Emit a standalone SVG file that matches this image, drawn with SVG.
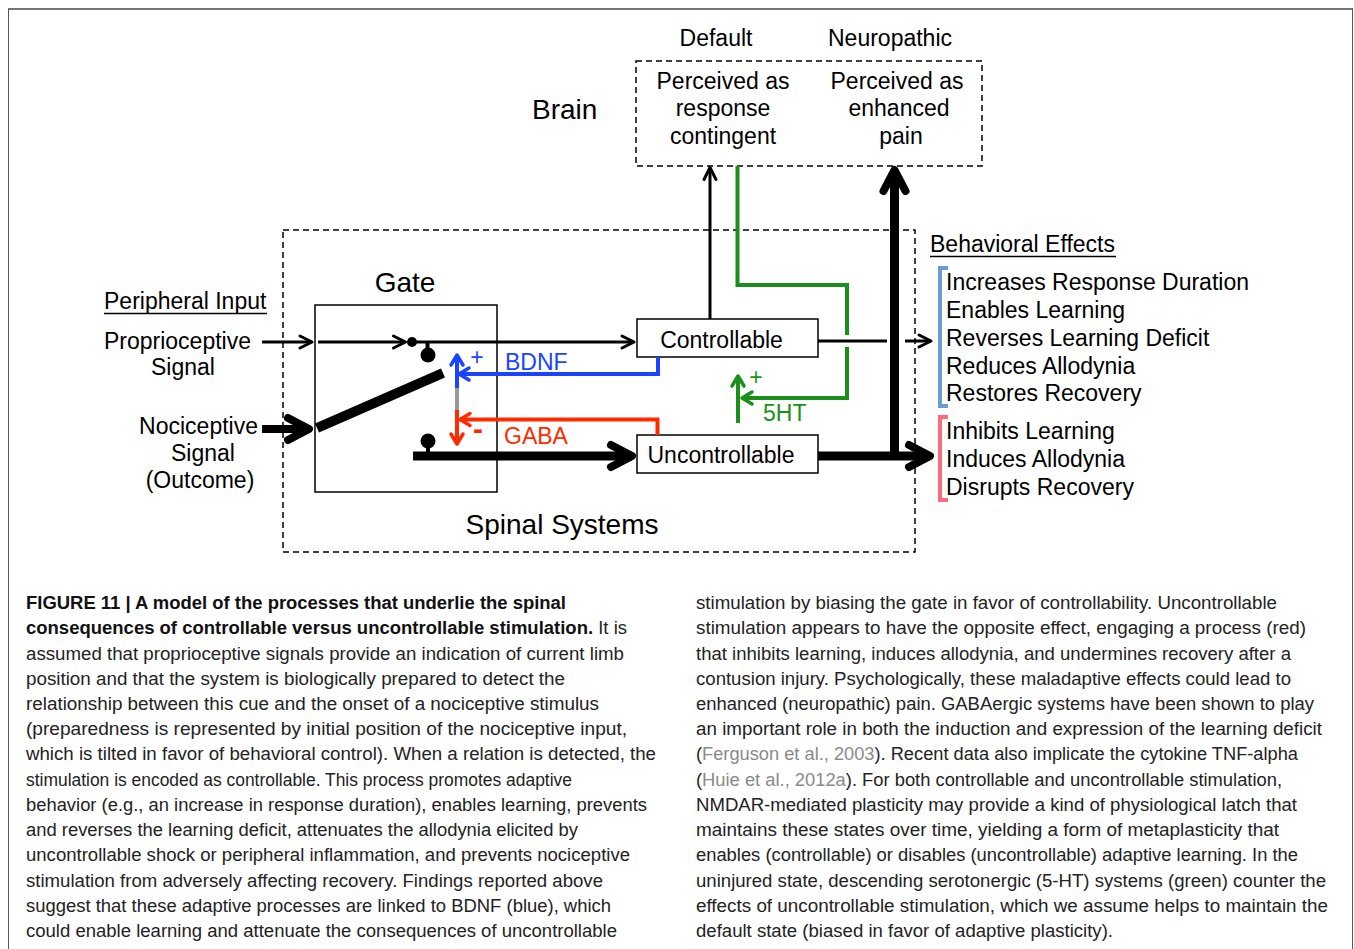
<svg xmlns="http://www.w3.org/2000/svg" width="1354" height="949" viewBox="0 0 1354 949">
<style>
.t{font-family:"Liberation Sans",Arial,Helvetica,sans-serif;fill:#000}
.d{font-size:23px}
.big{font-size:28px}
.m{text-anchor:middle}
.dash{fill:none;stroke:#000;stroke-width:1.5;stroke-dasharray:6 4}
.box{fill:#fff;stroke:#000;stroke-width:1.5}
.ln{fill:none;stroke:#000;stroke-width:3}
.thk{fill:none;stroke:#000;stroke-width:9}
.bl{fill:none;stroke:#1a44ff;stroke-width:4}
.rd{fill:none;stroke:#ff2a00;stroke-width:4}
.gr{fill:none;stroke:#1b8e1b;stroke-width:4}
.cap{font-family:"Liberation Sans",Arial,Helvetica,sans-serif;font-size:17.5px;fill:#222}
.bo{font-weight:bold;fill:#111}
.lk{fill:#8a8a8a}
</style>
<defs>
<marker id="aT" viewBox="-16 -10 20 20" refX="0" refY="0" markerWidth="20" markerHeight="20" markerUnits="userSpaceOnUse" orient="auto" overflow="visible"><path d="M-12,-6 L0,0 L-12,6" fill="none" stroke="#000" stroke-width="3" stroke-linecap="round" stroke-linejoin="round"/></marker>
<marker id="aB" viewBox="-30 -18 36 36" refX="0" refY="0" markerWidth="36" markerHeight="36" markerUnits="userSpaceOnUse" orient="auto" overflow="visible"><path d="M-21,-11 L0,0 L-21,11" fill="none" stroke="#000" stroke-width="8" stroke-linecap="round" stroke-linejoin="round"/></marker>
<marker id="aBl" viewBox="-16 -10 20 20" refX="0" refY="0" markerWidth="20" markerHeight="20" markerUnits="userSpaceOnUse" orient="auto" overflow="visible"><path d="M-10,-6 L0,0 L-10,6" fill="none" stroke="#1a44ff" stroke-width="3.5" stroke-linecap="round" stroke-linejoin="round"/></marker>
<marker id="aRd" viewBox="-16 -10 20 20" refX="0" refY="0" markerWidth="20" markerHeight="20" markerUnits="userSpaceOnUse" orient="auto" overflow="visible"><path d="M-10,-6 L0,0 L-10,6" fill="none" stroke="#ff2a00" stroke-width="3.5" stroke-linecap="round" stroke-linejoin="round"/></marker>
<marker id="aGr" viewBox="-16 -10 20 20" refX="0" refY="0" markerWidth="20" markerHeight="20" markerUnits="userSpaceOnUse" orient="auto" overflow="visible"><path d="M-10,-6 L0,0 L-10,6" fill="none" stroke="#1b8e1b" stroke-width="3.5" stroke-linecap="round" stroke-linejoin="round"/></marker>
</defs>
<rect width="1354" height="949" fill="#fff"/>
<g id="frame">
<path d="M8,9 H1353" stroke="#777" stroke-width="2" fill="none"/>
<path d="M8.5,9 V949 M1352.5,9 V949" stroke="#555" stroke-width="1" fill="none"/>
</g>

<g id="brain">
<text class="t d m" x="716" y="46">Default</text>
<text class="t d m" x="890" y="46">Neuropathic</text>
<text class="t big" x="532" y="119">Brain</text>
<rect class="dash" x="636" y="61" width="346" height="105"/>
<text class="t d m" x="723" y="89">Perceived as</text>
<text class="t d m" x="723" y="116">response</text>
<text class="t d m" x="723" y="144">contingent</text>
<text class="t d m" x="897" y="89">Perceived as</text>
<text class="t d m" x="899" y="116">enhanced</text>
<text class="t d m" x="901" y="144">pain</text>
</g>

<g id="spinal">
<rect class="dash" x="283" y="230" width="632" height="322"/>
<text class="t big m" x="562" y="534">Spinal Systems</text>
</g>

<g id="peripheral">
<text class="t d" x="104" y="309">Peripheral Input</text>
<path d="M104,313.5 H267" stroke="#000" stroke-width="1.5"/>
<text class="t d" x="251" y="349" text-anchor="end">Proprioceptive</text>
<text class="t d m" x="183" y="375">Signal</text>
<text class="t d" x="258" y="434" text-anchor="end">Nociceptive</text>
<text class="t d m" x="203" y="461">Signal</text>
<text class="t d m" x="200" y="488">(Outcome)</text>
</g>

<g id="gate">
<text class="t big m" x="405" y="292">Gate</text>
<rect x="315" y="305" width="182" height="187" fill="none" stroke="#000" stroke-width="1.5"/>
<path d="M317,428 L443,373" stroke="#000" stroke-width="10" fill="none"/>
<path d="M427.5,342 V353" stroke="#000" stroke-width="4"/>
<circle cx="428" cy="355" r="7.5" fill="#000"/>
<circle cx="428" cy="441" r="7.5" fill="#000"/>
<path d="M428,441 V453" stroke="#000" stroke-width="4"/>
</g>

<g id="controllable">
<rect class="box" x="637" y="319" width="181" height="38"/>
<text class="t d m" x="721.5" y="348">Controllable</text>
</g>

<g id="uncontrollable">
<rect class="box" x="637" y="435" width="181" height="38"/>
<text class="t d m" x="721" y="463">Uncontrollable</text>
</g>

<g id="behavioral">
<text class="t d" x="930" y="252">Behavioral Effects</text>
<path d="M930,256.5 H1116" stroke="#000" stroke-width="1.5"/>
<path d="M948,268 H940 V406 H948" fill="none" stroke="#6b9bd0" stroke-width="4"/>
<path d="M948,417 H940 V500 H948" fill="none" stroke="#ff6b78" stroke-width="4"/>
<text class="t d" x="946" y="290">Increases Response Duration</text>
<text class="t d" x="946" y="318">Enables Learning</text>
<text class="t d" x="946" y="346">Reverses Learning Deficit</text>
<text class="t d" x="946" y="374">Reduces Allodynia</text>
<text class="t d" x="946" y="401">Restores Recovery</text>
<text class="t d" x="946" y="439">Inhibits Learning</text>
<text class="t d" x="946" y="467">Induces Allodynia</text>
<text class="t d" x="946" y="495">Disrupts Recovery</text>
</g>

<g id="connectors">
<path class="ln" d="M262,342 H312" marker-end="url(#aT)"/>
<path class="ln" d="M318,342 H405.5" marker-end="url(#aT)"/>
<circle cx="412" cy="342" r="5" fill="#000"/>
<path class="ln" d="M412,342 H634" marker-end="url(#aT)"/>
<path d="M262,429 H309" fill="none" stroke="#000" stroke-width="8" marker-end="url(#aB)"/>
<path class="thk" d="M413,456 H632" marker-end="url(#aB)"/>
<path class="ln" d="M710,319 V167.5" marker-end="url(#aT)"/>
<path class="ln" d="M818,341 H887"/>
<path class="ln" d="M905,341 H931" marker-end="url(#aT)"/>
<path class="thk" d="M818,456 H930" marker-end="url(#aB)"/>
<path class="thk" d="M894.5,460 V170" marker-end="url(#aB)"/>
<path class="bl" d="M658,357 V374 H459" marker-end="url(#aBl)"/>
<path class="bl" d="M457,388 V355" marker-end="url(#aBl)"/>
<path d="M457,388 V410" stroke="#999" stroke-width="4" fill="none"/>
<path class="rd" d="M657.5,435 V419.5 H460" marker-end="url(#aRd)"/>
<path class="rd" d="M457,410 V444" marker-end="url(#aRd)"/>
<path class="gr" d="M737.5,166 V285 H847 V335"/>
<path class="gr" d="M847,347 V398 H742" marker-end="url(#aGr)"/>
<path class="gr" d="M738,423 V376" marker-end="url(#aGr)"/>
<text class="t" x="477" y="365" font-size="23" style="fill:#1a44ff" text-anchor="middle">+</text>
<text class="t d" x="505" y="370" style="fill:#1a44ff">BDNF</text>
<text class="t" x="478" y="439" font-size="30" style="fill:#ff2a00;font-weight:bold" text-anchor="middle">-</text>
<text class="t d" x="504" y="444" style="fill:#ff2a00">GABA</text>
<text class="t" x="756" y="385" font-size="23" style="fill:#1b8e1b" text-anchor="middle">+</text>
<text class="t d" x="763" y="421" style="fill:#1b8e1b">5HT</text>
</g>

<g id="caption">
<text class="cap bo" x="26" y="609" textLength="540" lengthAdjust="spacingAndGlyphs">FIGURE 11 | A model of the processes that underlie the spinal</text>
<text class="cap" x="26" y="634.2" textLength="601" lengthAdjust="spacingAndGlyphs"><tspan class="bo">consequences of controllable versus uncontrollable stimulation.</tspan> It is</text>
<text class="cap" x="26" y="659.5" textLength="598" lengthAdjust="spacingAndGlyphs">assumed that proprioceptive signals provide an indication of current limb</text>
<text class="cap" x="26" y="684.7" textLength="539" lengthAdjust="spacingAndGlyphs">position and that the system is biologically prepared to detect the</text>
<text class="cap" x="26" y="709.9" textLength="573" lengthAdjust="spacingAndGlyphs">relationship between this cue and the onset of a nociceptive stimulus</text>
<text class="cap" x="26" y="735.2" textLength="601" lengthAdjust="spacingAndGlyphs">(preparedness is represented by initial position of the nociceptive input,</text>
<text class="cap" x="26" y="760.4" textLength="630" lengthAdjust="spacingAndGlyphs">which is tilted in favor of behavioral control). When a relation is detected, the</text>
<text class="cap" x="26" y="785.6" textLength="546" lengthAdjust="spacingAndGlyphs">stimulation is encoded as controllable. This process promotes adaptive</text>
<text class="cap" x="26" y="810.8" textLength="621" lengthAdjust="spacingAndGlyphs">behavior (e.g., an increase in response duration), enables learning, prevents</text>
<text class="cap" x="26" y="836.1" textLength="552" lengthAdjust="spacingAndGlyphs">and reverses the learning deficit, attenuates the allodynia elicited by</text>
<text class="cap" x="26" y="861.3" textLength="604" lengthAdjust="spacingAndGlyphs">uncontrollable shock or peripheral inflammation, and prevents nociceptive</text>
<text class="cap" x="26" y="886.5" textLength="577" lengthAdjust="spacingAndGlyphs">stimulation from adversely affecting recovery. Findings reported above</text>
<text class="cap" x="26" y="911.8" textLength="585" lengthAdjust="spacingAndGlyphs">suggest that these adaptive processes are linked to BDNF (blue), which</text>
<text class="cap" x="26" y="937" textLength="591" lengthAdjust="spacingAndGlyphs">could enable learning and attenuate the consequences of uncontrollable</text>

<text class="cap" x="696" y="609" textLength="581" lengthAdjust="spacingAndGlyphs">stimulation by biasing the gate in favor of controllability. Uncontrollable</text>
<text class="cap" x="696" y="634.2" textLength="610" lengthAdjust="spacingAndGlyphs">stimulation appears to have the opposite effect, engaging a process (red)</text>
<text class="cap" x="696" y="659.5" textLength="595" lengthAdjust="spacingAndGlyphs">that inhibits learning, induces allodynia, and undermines recovery after a</text>
<text class="cap" x="696" y="684.7" textLength="595" lengthAdjust="spacingAndGlyphs">contusion injury. Psychologically, these maladaptive effects could lead to</text>
<text class="cap" x="696" y="709.9" textLength="618" lengthAdjust="spacingAndGlyphs">enhanced (neuropathic) pain. GABAergic systems have been shown to play</text>
<text class="cap" x="696" y="735.2" textLength="626" lengthAdjust="spacingAndGlyphs">an important role in both the induction and expression of the learning deficit</text>
<text class="cap" x="696" y="760.4" textLength="602" lengthAdjust="spacingAndGlyphs">(<tspan class="lk">Ferguson et al., 2003</tspan>). Recent data also implicate the cytokine TNF-alpha</text>
<text class="cap" x="696" y="785.6" textLength="586" lengthAdjust="spacingAndGlyphs">(<tspan class="lk">Huie et al., 2012a</tspan>). For both controllable and uncontrollable stimulation,</text>
<text class="cap" x="696" y="810.8" textLength="601" lengthAdjust="spacingAndGlyphs">NMDAR-mediated plasticity may provide a kind of physiological latch that</text>
<text class="cap" x="696" y="836.1" textLength="583" lengthAdjust="spacingAndGlyphs">maintains these states over time, yielding a form of metaplasticity that</text>
<text class="cap" x="696" y="861.3" textLength="602" lengthAdjust="spacingAndGlyphs">enables (controllable) or disables (uncontrollable) adaptive learning. In the</text>
<text class="cap" x="696" y="886.5" textLength="630" lengthAdjust="spacingAndGlyphs">uninjured state, descending serotonergic (5-HT) systems (green) counter the</text>
<text class="cap" x="696" y="911.8" textLength="632" lengthAdjust="spacingAndGlyphs">effects of uncontrollable stimulation, which we assume helps to maintain the</text>
<text class="cap" x="696" y="937" textLength="417" lengthAdjust="spacingAndGlyphs">default state (biased in favor of adaptive plasticity).</text>
</g>
</svg>
